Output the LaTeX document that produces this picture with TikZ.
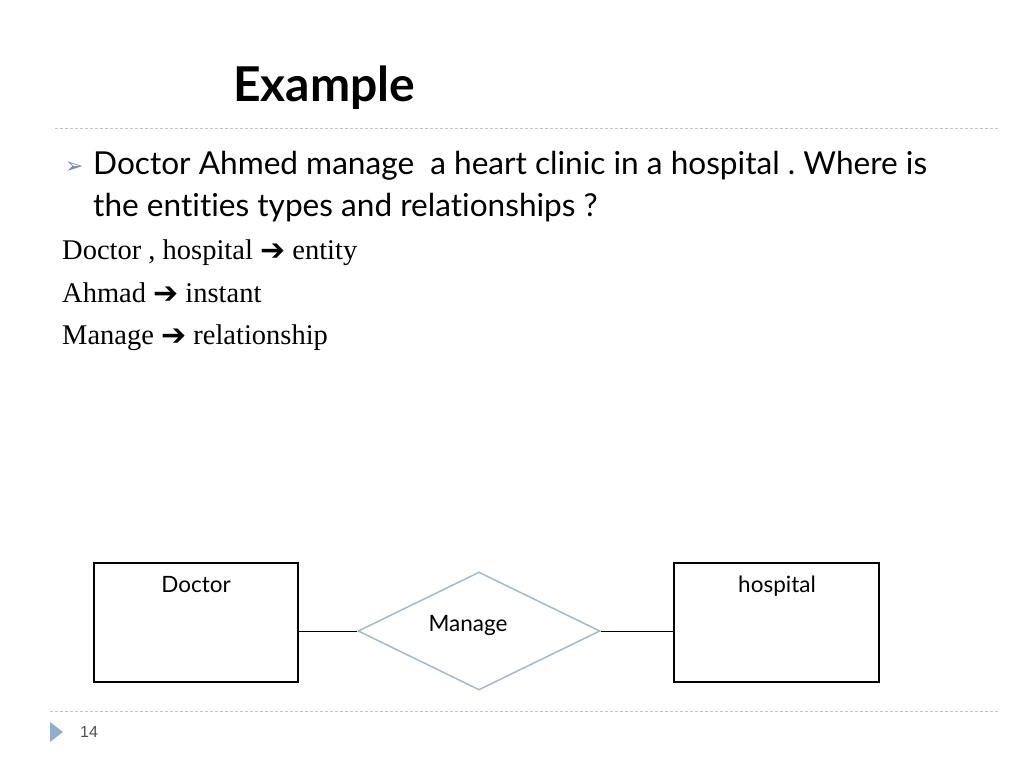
\documentclass[tikz,border=0pt]{standalone}
\usepackage{fontspec}
\setmainfont{Liberation Serif}
\newfontfamily\gill[Ligatures=NoCommon]{Lato}
\newfontfamily\arialf{Liberation Sans}
\newfontfamily\dejavu{DejaVu Sans}
\usetikzlibrary{shapes.geometric}
\definecolor{dashgray}{RGB}{190,195,200}
\definecolor{diamondblue}{RGB}{165,185,205}
\definecolor{bulletblue}{RGB}{120,135,175}
\definecolor{pagetri}{RGB}{145,175,205}
\definecolor{pagegray}{RGB}{80,80,80}
\newcommand\myarrow{{\dejavu\fontsize{30}{34}\selectfont\raisebox{-1pt}{➔}}}
\frenchspacing
\begin{document}
\begin{tikzpicture}[x=1pt,y=-1pt,
  sep/.style={draw=dashgray, line width=1pt, dash pattern=on 3pt off 2pt},
  entitybox/.style={draw=black, line width=1.5pt},
  boxlabel/.style={font=\gill\fontsize{22.5}{26}\selectfont, anchor=base},
  bodytext/.style={font=\gill\fontsize{31.6}{38}\selectfont, anchor=base west, inner sep=0pt},
  serif/.style={font=\fontsize{28.5}{33}\selectfont, anchor=base west, inner sep=0pt},
  link/.style={draw=black, line width=0.8pt}]
\useasboundingbox (0,0) rectangle (1024,768);
\fill[white] (0,0) rectangle (1024,768);
% title
\node[font=\gill\bfseries\fontsize{48}{54}\selectfont, anchor=base west, inner sep=0pt] (title) at (233,101) {Example};
\coordinate (s1a) at (55,128); \coordinate (s1b) at (1000,128);
\draw[sep] (s1a) -- (s1b);
% bullet text
\node[font=\dejavu\fontsize{22}{26}\selectfont, text=bulletblue, anchor=base west, inner sep=0pt] (bullet) at (65,173) {➢};
\node[bodytext] (l1) at (93,174) {Doctor Ahmed manage\ \ a heart clinic in a hospital . Where is};
\node[bodytext] (l2) at (93,216) {the entities types and relationships ?};
\node[serif] (s1) at (62,259) {Doctor , hospital \myarrow{} entity};
\node[serif] (s2) at (62,302) {Ahmad \myarrow{} instant};
\node[serif] (s3) at (62,344) {Manage \myarrow{} relationship};
% diagram
\node[entitybox, minimum width=204pt, minimum height=119pt, inner sep=0pt] (doctor) at (196,622.5) {};
\node[boxlabel] (doctorlbl) at (196,592) {Doctor};
\node[entitybox, minimum width=205pt, minimum height=119pt, inner sep=0pt] (hospital) at (776.5,622.5) {};
\node[boxlabel] (hospitallbl) at (777,592) {hospital};
\node[diamond, draw=diamondblue, line width=1.5pt, minimum width=242pt, minimum height=118pt, inner sep=0pt, aspect=2] (manage) at (479,631) {};
\node[boxlabel] (managelbl) at (468,631) {Manage};
\draw[link] (manage.west) -- (manage.west -| doctor.east);
\draw[link] (manage.east) -- (manage.east -| hospital.west);
% footer
\coordinate (s2a) at (50,711); \coordinate (s2b) at (1000,711);
\draw[sep] (s2a) -- (s2b);
\fill[pagetri] (50,722) -- (63,732) -- (50,742) -- cycle;
\node[font=\arialf\fontsize{16}{19}\selectfont, text=pagegray, anchor=base west, inner sep=0pt] (pagenum) at (80,737) {14};
\end{tikzpicture}
\end{document}
